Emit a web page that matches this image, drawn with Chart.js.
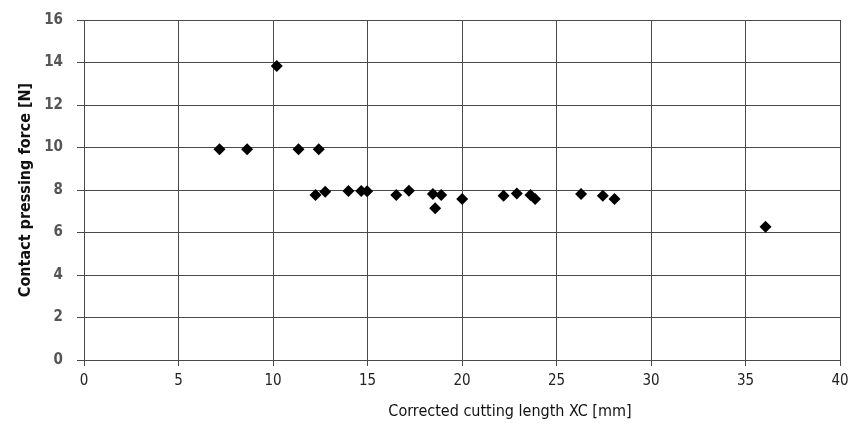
<!DOCTYPE html>
<html>
<head>
<meta charset="utf-8">
<script src="https://cdn.jsdelivr.net/npm/chart.js@4.4.1/dist/chart.umd.min.js"></script>
<style>
  html, body { margin: 0; padding: 0; background: #fff; }
  #wrap { width: 851px; height: 430px; }
</style>
</head>
<body>
<div id="wrap"><canvas id="chart" width="851" height="430"></canvas></div>
<script>
const xValues = [7.17, 8.63, 10.2, 11.35, 12.42, 12.25, 12.76, 13.99, 14.67, 14.98, 16.52, 17.19,
  18.46, 18.58, 18.9, 20.01, 22.2, 22.9, 23.62, 23.87, 26.3, 27.45, 28.07, 36.06];
const yValues = [9.92, 9.92, 13.84, 9.92, 9.92, 7.76, 7.92, 7.95, 7.95, 7.94, 7.76, 7.97,
  7.81, 7.14, 7.76, 7.58, 7.73, 7.84, 7.76, 7.58, 7.81, 7.73, 7.58, 6.27];
const xTicks = [0, 5, 10, 15, 20, 25, 30, 35, 40];
const yTicks = [0, 2, 4, 6, 8, 10, 12, 14, 16];
const xTitle = 'Corrected cutting length XC [mm]';

const points = xValues.map((x, i) => ({ x: x, y: yValues[i] }));
const gridColor = '#4a4a4a';
const fontFam = "'DejaVu Sans Condensed', 'Open Sans', sans-serif";

// x title sits a bit right of centre in the original
const xTitlePlugin = {
  id: 'xTitle',
  afterDraw(chart) {
    const { ctx, chartArea } = chart;
    ctx.save();
    ctx.font = '16px ' + fontFam;
    ctx.fillStyle = '#111';
    ctx.textAlign = 'center';
    ctx.textBaseline = 'middle';
    ctx.fillText(xTitle, (chartArea.left + chartArea.right) / 2 + 48, chartArea.bottom + 52);
    ctx.restore();
  }
};

new Chart(document.getElementById('chart').getContext('2d'), {
  type: 'scatter',
  data: {
    datasets: [{
      data: points,
      pointStyle: 'rectRot',
      pointRadius: 6,
      pointHoverRadius: 6,
      backgroundColor: '#000',
      borderColor: '#000',
      borderWidth: 0
    }]
  },
  plugins: [xTitlePlugin],
  options: {
    responsive: false,
    animation: false,
    layout: { padding: { left: 0, right: 11, top: 20, bottom: 0 } },
    plugins: { legend: { display: false }, tooltip: { enabled: false } },
    scales: {
      x: {
        type: 'linear',
        min: 0,
        max: 40,
        afterBuildTicks: (s) => { s.ticks = xTicks.map(v => ({ value: v })); },
        afterFit: (s) => { s.height = 70; s.paddingLeft = 0; s.paddingRight = 0; },
        grid: { color: gridColor, lineWidth: 1, tickLength: 6, drawTicks: true },
        border: { color: gridColor, width: 1 },
        ticks: { color: '#222', padding: 6, maxRotation: 0,
          font: { family: fontFam, size: 15 } },
        title: { display: false }
      },
      y: {
        type: 'linear',
        min: 0,
        max: 16,
        afterBuildTicks: (s) => { s.ticks = yTicks.map(v => ({ value: v })); },
        afterFit: (s) => { s.width = 84; s.paddingTop = 0; s.paddingBottom = 0; },
        grid: { color: gridColor, lineWidth: 1, tickLength: 7, drawTicks: true },
        border: { color: gridColor, width: 1 },
        ticks: { color: '#555', padding: 14,
          font: { family: fontFam, size: 15, weight: 'bold' } },
        title: { display: true, text: 'Contact pressing force [N]', color: '#111',
          padding: { top: 16, bottom: 6 },
          font: { family: fontFam, size: 16, weight: 'bold' } }
      }
    }
  }
});
</script>
</body>
</html>
